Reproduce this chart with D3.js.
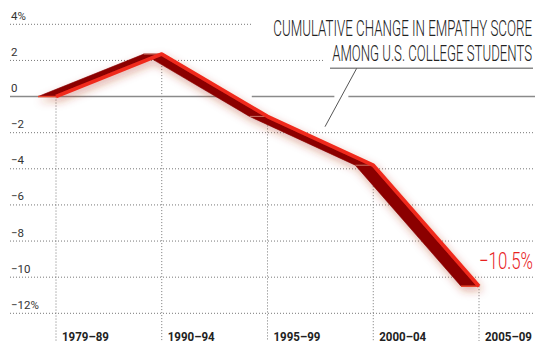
<!DOCTYPE html>
<html><head><meta charset="utf-8">
<script src="https://cdn.jsdelivr.net/npm/d3@7"></script>
<style>html,body{margin:0;padding:0;background:#fff;}</style>
</head><body>
<svg id="c" width="545" height="359"></svg>
<script>
const categories = ["1979–89","1990–94","1995–99","2000–04","2005–09"];
const values = [0, 2.35, -1.1, -3.8, -10.5];
const yTicks = [4, 2, 0, -2, -4, -6, -8, -10, -12];
const yTickLabels = ["4%","2","0","−2","−4","−6","−8","−10","−12%"];
const titleLines = ["CUMULATIVE CHANGE IN EMPATHY SCORE","AMONG U.S. COLLEGE STUDENTS"];
const endLabel = "−10.5%";

const svg = d3.select("#c");
const x = d3.scalePoint().domain(categories).range([56, 479]);
const y = d3.scaleLinear().domain([-12, 4]).range([313.3, 24.3]);
const gridLeft = 10, gridRight = 535, bottom = 341;
const D = 18; // ribbon depth
const pts = categories.map((c,i)=>[x(c), y(values[i])]);
const tf = "Roboto, 'DejaVu Sans', sans-serif";

// text scaled horizontally to a given width (real text, transformed)
function fitText(parent, str, px, py, width, anchor, size, weight, color){
  const t = parent.append("text").attr("x",0).attr("y",0)
    .attr("text-anchor",anchor).attr("font-family",tf).attr("font-weight",weight)
    .attr("font-size",size).attr("fill",color).text(str);
  const w = t.node().getComputedTextLength();
  const s = width / w;
  t.attr("transform",`translate(${px},${py}) scale(${s},1)`);
  return t;
}

const defs = svg.append("defs");
const f = defs.append("filter").attr("id","sh").attr("x","-20%").attr("y","-20%").attr("width","140%").attr("height","140%");
f.append("feDropShadow").attr("dx",2).attr("dy",4).attr("stdDeviation",4)
 .attr("flood-color","#b0301f").attr("flood-opacity",0.38);

// horizontal dotted grid
const gridEnds = {4:252, 2:323};
yTicks.forEach(t=>{
  if(t===0) return;
  svg.append("line").attr("x1",gridLeft).attr("x2",gridEnds[t]||gridRight)
    .attr("y1",y(t)).attr("y2",y(t))
    .attr("stroke","#777").attr("stroke-width",1).attr("stroke-dasharray","1,2");
});
// vertical dotted lines from data to bottom
pts.forEach(p=>{
  svg.append("line").attr("x1",p[0]).attr("x2",p[0]).attr("y1",p[1]).attr("y2",bottom)
    .attr("stroke","#777").attr("stroke-width",1).attr("stroke-dasharray","1,2");
});

// pointer line
const ptrA=[356.7,68.3], ptrB=[325,126.7];
const y0 = y(0);
const ptrX = ptrA[0] + (y0-ptrA[1])/(ptrB[1]-ptrA[1])*(ptrB[0]-ptrA[0]);
// ribbon zero crossing (front edge)
let xc = null;
for(let i=0;i<values.length-1;i++){
  if(values[i]>0 && values[i+1]<=0){
    const t = values[i]/(values[i]-values[i+1]);
    xc = pts[i][0] + t*(pts[i+1][0]-pts[i][0]);
  }
}
const zeroSegs = [[gridLeft, xc - D + 4],[xc + 18, ptrX - 7],[ptrX + 7, gridRight]];
zeroSegs.forEach(s=>{
  svg.append("line").attr("x1",s[0]).attr("x2",s[1]).attr("y1",y0).attr("y2",y0)
    .attr("stroke","#8a8a8a").attr("stroke-width",1.6);
});

// y tick labels
yTicks.forEach((t,i)=>{
  svg.append("text").attr("x",11).attr("y",y(t)-4.5)
    .attr("font-family",tf).attr("font-weight",400)
    .attr("font-size",11.5).attr("fill","#333").text(yTickLabels[i]);
});
// x labels
categories.forEach(c=>{
  fitText(svg, c, x(c)+6, 340.5, 47, "start", 13.5, 700, "#222");
});

// title
fitText(svg, titleLines[0], 532, 36, 259, "end", 22.5, 300, "#222");
fitText(svg, titleLines[1], 532, 60.7, 200, "end", 22.5, 300, "#222");
svg.append("line").attr("x1",330).attr("x2",533).attr("y1",68.3).attr("y2",68.3)
  .attr("stroke","#8a8a8a").attr("stroke-width",1.6);
svg.append("line").attr("x1",ptrA[0]).attr("y1",ptrA[1]).attr("x2",ptrB[0]).attr("y2",ptrB[1])
  .attr("stroke","#555").attr("stroke-width",1);

// ribbon
const g = svg.append("g").attr("filter","url(#sh)");
for(let i=0;i<pts.length-1;i++){
  const a=pts[i], b=pts[i+1];
  g.append("polygon").attr("points",[a,b,[b[0]-D,b[1]],[a[0]-D,a[1]]].map(p=>p.join(",")).join(" "))
    .attr("fill","#8b0000").attr("stroke","#8b0000").attr("stroke-width",0.6).attr("stroke-linejoin","round");
}
// facet highlights at vertices
pts.forEach((p,i)=>{
  const ends = (i===0||i===pts.length-1);
  g.append("line").attr("x1",p[0]-D).attr("x2",p[0]).attr("y1",p[1]).attr("y2",p[1])
    .attr("stroke", ends ? "#e8452a" : "#d98a78").attr("stroke-width", ends?1.5:1)
    .attr("opacity", ends?1:0.8);
});
g.append("path").attr("d", d3.line().curve(d3.curveLinear)(pts))
  .attr("fill","none").attr("stroke","#f02a1e").attr("stroke-width",3.8)
  .attr("stroke-linejoin","round").attr("stroke-linecap","butt");

// end label
fitText(svg, endLabel, 479, 269.3, 54, "start", 24.5, 300, "#e8231f");
</script>
</body></html>
